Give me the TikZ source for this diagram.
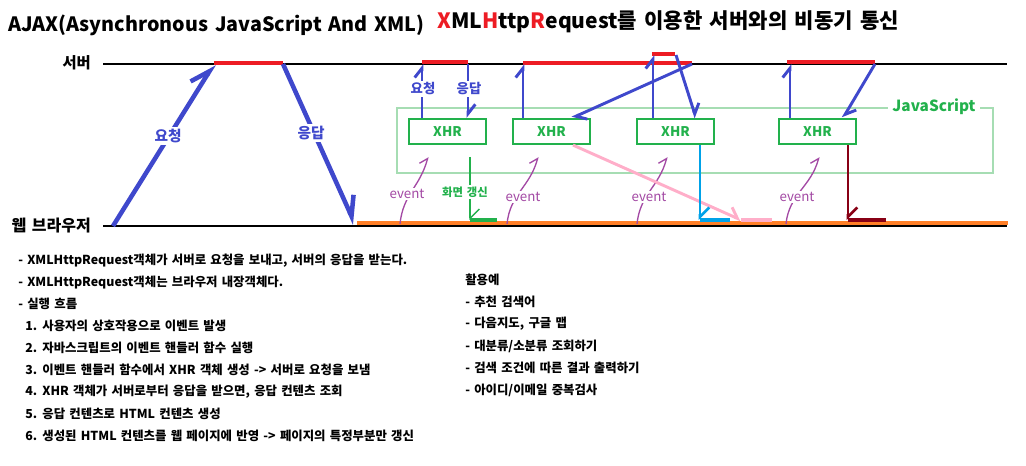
\documentclass[tikz,border=0pt]{standalone}
\usepackage{fontspec}
\setmainfont{Noto Sans CJK KR}[WordSpace=1.5]
\usetikzlibrary{arrows.meta}
\definecolor{pblue}{HTML}{3F48CC}
\definecolor{pred}{HTML}{ED1C24}
\definecolor{porange}{HTML}{FF7F27}
\definecolor{pgreen}{HTML}{22B14C}
\definecolor{pltgreen}{HTML}{A6DDB3}
\definecolor{ppurple}{HTML}{A349A4}
\definecolor{ppink}{HTML}{FFAEC9}
\definecolor{pcyan}{HTML}{00A2E8}
\definecolor{pdkred}{HTML}{880015}

\tikzset{
  xhrbox/.style={draw=pgreen,line width=1.4pt,minimum width=58pt,minimum height=19pt,
    inner sep=0pt,text=pgreen,font=\bfseries\fontsize{10}{12}\selectfont},
  bigarrow/.style={pblue,line width=3.4pt,-{Straight Barb[left,length=14pt,width=16pt]}},
  smallarrow/.style={pblue,line width=2.2pt,-{Straight Barb[left,length=7pt,width=11pt]}},
  evline/.style={ppurple,line width=1pt,-{Straight Barb[left,length=5pt,width=10pt]}},
  lbl/.style={fill=white,inner sep=1.5pt,text=pblue,font=\bfseries\fontsize{11}{13}\selectfont},
  evlbl/.style={fill=white,inner sep=1pt,text=ppurple,font=\fontsize{10}{12}\selectfont},
  listtxt/.style={anchor=west,inner sep=0pt,font=\bfseries\fontsize{9.3}{11}\selectfont},
}

\begin{document}
\begin{tikzpicture}[x=0.75pt,y=-0.75pt]
\useasboundingbox (0,0) rectangle (1026,466);

% titles
\node[anchor=west,inner sep=0pt,font=\bfseries\fontsize{14.8}{18}\selectfont] (t1) at (8,25) {AJAX(Asynchronous JavaScript And XML)};
\node[anchor=west,inner sep=0pt,font=\bfseries\fontsize{15.8}{18}\selectfont] (t2) at (437,22)
  {{\color{pred}X}ML{\color{pred}H}ttp{\color{pred}R}equest를 이용한 서버와의 비동기 통신};

% server and browser lines
\coordinate (sa) at (103,64);
\coordinate (sb) at (1007,64);
\coordinate (ba) at (103,226);
\coordinate (bb) at (1007,226);
\draw[line width=2.2pt] (sa) -- (sb);
\draw[line width=2.2pt] (ba) -- (bb);
\node[anchor=east,inner sep=0pt,font=\bfseries\fontsize{11.5}{13}\selectfont] (srv) at (91,63) {서버};
\node[anchor=east,inner sep=0pt,font=\bfseries\fontsize{12}{13}\selectfont] (web) at (91,226) {웹 브라우저};
\draw[porange,line width=3pt] (357,223) -- (1008,223);

% server busy segments
\draw[pred,line width=3pt] (214,63) -- (283,63);
\draw[pred,line width=3pt] (422,62) -- (468,62);
\draw[pred,line width=3pt] (523,63) -- (692,63);
\draw[pred,line width=3pt] (652,54) -- (675,54);
\draw[pred,line width=3pt] (787,62) -- (875,62);

% classic request / response
\coordinate (rq) at (113,226);
\coordinate (rs) at (355,224);
\draw[bigarrow] (rq) -- (214,64);
\draw[bigarrow] (283,64) -- (rs);
\node[lbl] (req0) at (168,136) {요청};
\node[lbl] (res0) at (311,133) {응답};

% JavaScript area
\draw[pltgreen,line width=0.8pt] (397,108) rectangle (993,173);
\node[fill=white,inner sep=3pt,text=pgreen,font=\bfseries\fontsize{11.5}{13}\selectfont] (js) at (934,107) {JavaScript};

\node[xhrbox] (x1) at (447.5,131.5) {XHR};
\node[xhrbox] (x2) at (551.5,131.5) {XHR};
\node[xhrbox] (x3) at (675.5,131.5) {XHR};
\node[xhrbox] (x4) at (817.5,131.5) {XHR};

% requests and responses of XHR
\coordinate (q1) at (422,64);
\coordinate (p1) at (468,64);
\draw[smallarrow] (x1.north -| q1) -- (q1);
\draw[smallarrow] (p1) -- (x1.north -| p1);
\node[lbl,font=\bfseries\fontsize{10}{12}\selectfont] (req1) at (423,89) {요청};
\node[lbl,font=\bfseries\fontsize{10}{12}\selectfont] (res1) at (469,89) {응답};

\coordinate (q2) at (523,64);
\coordinate (p2) at (692,64);
\draw[smallarrow] (x2.north -| q2) -- (q2);
\draw[smallarrow] (p2) -- (572,118);

\coordinate (q3) at (653,55);
\coordinate (p3) at (676,55);
\draw[smallarrow] (x3.north -| q3) -- (q3);
\draw[smallarrow] (p3) -- (696,118);

\coordinate (q4) at (790,64);
\coordinate (p4) at (875,64);
\draw[smallarrow] (x4.north -| q4) -- (q4);
\draw[smallarrow] (p4) -- (843,118);

% events from the browser
\coordinate (e1) at (400,224);
\coordinate (e2) at (507,224);
\coordinate (e3) at (637,224);
\coordinate (e4) at (786,224);
\draw[evline] (e1) .. controls +(3,-30) and +(-8,30) .. +(28,-67);
\draw[evline] (e2) .. controls +(3,-30) and +(-8,30) .. +(31,-67);
\draw[evline] (e3) .. controls +(3,-30) and +(-8,30) .. +(30,-67);
\draw[evline] (e4) .. controls +(3,-30) and +(-8,30) .. +(33,-67);
\node[evlbl] (ev1) at (407,194) {event};
\node[evlbl] (ev2) at (523,197) {event};
\node[evlbl] (ev3) at (649,197) {event};
\node[evlbl] (ev4) at (797,197) {event};

% updates of the page
\coordinate (u1) at (470,220);
\draw[pgreen,line width=1pt,-{Straight Barb[left,length=7pt,width=14pt]}] (470,157) -- (u1);
\draw[pgreen,line width=3pt] (u1) -- (497,220);
\node[fill=white,inner sep=1pt,text=pgreen,font=\bfseries\fontsize{8.5}{10}\selectfont] (upd) at (465,192) {화면 갱신};

\coordinate (u2) at (741,220);
\draw[ppink,line width=2.2pt,-{Straight Barb[left,length=7pt,width=12pt]}] (x2.south -| 573,0) -- (u2);
\draw[ppink,line width=3pt] (u2) -- (772,220);

\coordinate (u3) at (700,220);
\draw[pcyan,line width=2pt,-{Straight Barb[left,length=7pt,width=14pt]}] (x3.south -| u3) -- (u3);
\draw[pcyan,line width=3pt] (u3) -- (730,220);

\coordinate (u4) at (848,220);
\draw[pdkred,line width=2pt,-{Straight Barb[left,length=7pt,width=14pt]}] (x4.south -| u4) -- (u4);
\draw[pdkred,line width=3pt] (u4) -- (886,220);

% notes
\node[listtxt] (l1) at (18,261) {- XMLHttpRequest객체가 서버로 요청을 보내고, 서버의 응답을 받는다.};
\node[listtxt] (l2) at (18,283) {- XMLHttpRequest객체는 브라우저 내장객체다.};
\node[listtxt] (l3) at (18,304) {- 실행 흐름};
\node[listtxt] (l4) at (25,326) {1. 사용자의 상호작용으로 이벤트 발생};
\node[listtxt] (l5) at (25,348) {2. 자바스크립트의 이벤트 핸들러 함수 실행};
\node[listtxt] (l6) at (25,370) {3. 이벤트 핸들러 함수에서 XHR 객체 생성 -> 서버로 요청을 보냄};
\node[listtxt] (l7) at (25,392) {4. XHR 객체가 서버로부터 응답을 받으면, 응답 컨텐츠 조회};
\node[listtxt] (l8) at (25,414) {5. 응답 컨텐츠로 HTML 컨텐츠 생성};
\node[listtxt] (l9) at (25,436) {6. 생성된 HTML 컨텐츠를 웹 페이지에 반영 -> 페이지의 특정부분만 갱신};

\node[listtxt] (r0) at (465,280) {활용예};
\node[listtxt] (r1) at (465,302) {- 추천 검색어};
\node[listtxt] (r2) at (465,324) {- 다음지도, 구글 맵};
\node[listtxt] (r3) at (465,346) {- 대분류/소분류 조회하기};
\node[listtxt] (r4) at (465,368) {- 검색 조건에 따른 결과 출력하기};
\node[listtxt] (r5) at (465,390) {- 아이디/이메일 중복검사};

\end{tikzpicture}
\end{document}
